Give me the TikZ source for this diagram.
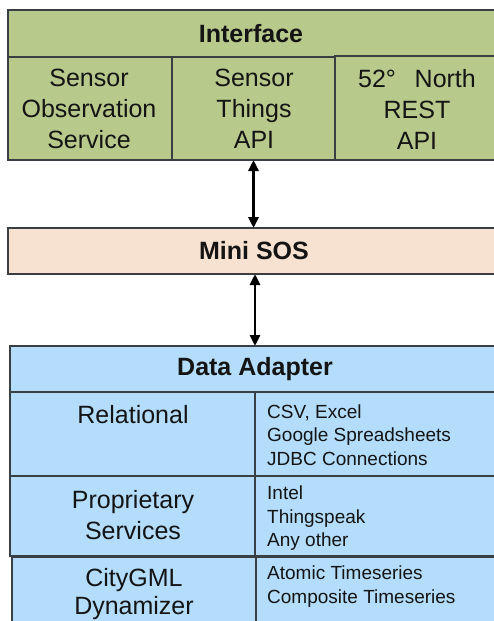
\documentclass[tikz,border=0pt]{standalone}
\usepackage{fontspec}
\setmainfont{Liberation Sans}
\usetikzlibrary{arrows.meta}
\definecolor{ifgreen}{HTML}{B7CA8C}
\definecolor{peach}{HTML}{F7E1D1}
\definecolor{lblue}{HTML}{B3DDFB}
\definecolor{linec}{HTML}{3A3F44}
\definecolor{txt}{HTML}{141414}
\begin{document}
\begin{tikzpicture}[x=1pt,y=-1pt,
  cell/.style={draw=linec, line width=1.3pt, inner sep=0pt, outer sep=0pt, anchor=north west},
  big/.style={inner sep=0pt, text=txt, align=center, font=\fontsize{25}{31}\selectfont},
  bigb/.style={inner sep=0pt, text=txt, font=\fontsize{25}{30}\selectfont\bfseries},
  small/.style={inner sep=0pt, text=txt, align=left, anchor=west, font=\fontsize{19}{23.5}\selectfont},
  biarrow/.style={line width=2.8pt, {Triangle[width=10pt,length=11pt]}-{Triangle[width=10pt,length=11pt]}}]
\useasboundingbox (0,0) rectangle (494,621);
% Interface
\node[cell, fill=ifgreen, minimum width=510pt, minimum height=47pt] (ifh) at (8,10) {};
\node[cell, fill=ifgreen, minimum width=164pt, minimum height=103pt] (ifA) at (8,57) {};
\node[cell, fill=ifgreen, minimum width=163pt, minimum height=103pt] (ifB) at (172,57) {};
\node[cell, fill=ifgreen, minimum width=180pt, minimum height=104pt] (ifC) at (335,56) {};
\node[bigb] (ifhT) at (251,34) {Interface};
\node[big] (ifAT) at (89,109) {Sensor\\Observation\\Service};
\node[big] (ifBT) at (254,109) {Sensor\\Things\\API};
\node[big] (ifCT) at (417,109) {52°\hspace{0.75em}North\\REST\\API};
% Mini SOS
\node[cell, fill=peach, minimum width=510pt, minimum height=46pt] (mini) at (8,228) {};
\node[bigb] (miniT) at (254,251) {Mini SOS};
% Data Adapter
\node[cell, fill=lblue, minimum width=510pt, minimum height=46pt] (dah) at (10,346) {};
\node[bigb] (dahT) at (255,369) {Data Adapter};
\node[cell, fill=lblue, minimum width=245pt, minimum height=84pt] (relL) at (10,392) {};
\node[cell, fill=lblue, minimum width=265pt, minimum height=84pt] (relR) at (255,392) {};
\node[cell, fill=lblue, minimum width=245pt, minimum height=80pt] (propL) at (10,476) {};
\node[cell, fill=lblue, minimum width=265pt, minimum height=80pt] (propR) at (255,476) {};
\node[cell, fill=lblue, minimum width=244pt, minimum height=90pt] (cityL) at (12,557) {};
\node[cell, fill=lblue, minimum width=264pt, minimum height=90pt] (cityR) at (256,557) {};
\node[big] (relT) at (133,415) {Relational};
\node[small] (relRT) at (267,435) {CSV, Excel\\Google Spreadsheets\\JDBC Connections};
\node[big] (propT) at (133,515) {Proprietary\\Services};
\node[small] (propRT) at (267,518.5) {Intel\\Thingspeak\\Any other};
\node[big, font=\fontsize{25}{28}\selectfont] (cityT) at (134,594) {CityGML\\Dynamizer};
\node[small] (cityRT) at (267,586.5) {Atomic Timeseries\\Composite Timeseries};
% arrows
\draw[biarrow] (ifB.south) -- (ifB.south |- mini.north);
\draw[biarrow] (mini.south -| dahT) -- (dah.north -| dahT);
\end{tikzpicture}
\end{document}
